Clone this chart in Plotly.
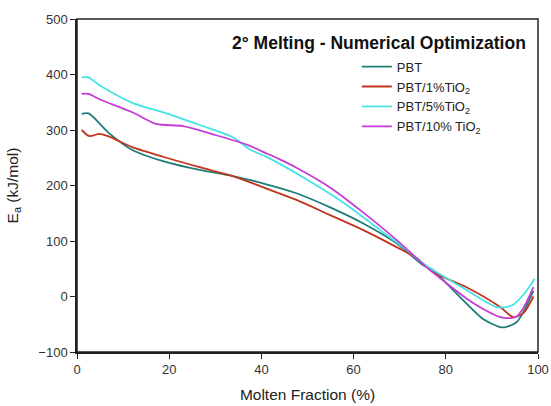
import plotly.graph_objects as go

# Data
pbt_x = [1, 2.5, 7, 12, 19.4, 26.6, 33.8, 40.3, 47.6, 54.8, 62, 69.3, 75, 77.2, 80, 84.4, 88, 91.8, 93, 95.4, 97, 99]
pbt_y = [329, 330, 294, 264, 242, 228, 217, 204, 186, 161, 132, 96, 57, 48, 25, -12, -40, -55, -55, -46, -25, 10]

tio1_x = [1, 2.7, 4.9, 7, 12, 19.4, 26.6, 33.8, 40.3, 47.6, 54.8, 62, 69.3, 73.7, 77.2, 84.4, 91.8, 94.6, 96.8, 99]
tio1_y = [300, 289, 293, 288, 269, 250, 233, 217, 197, 174, 147, 120, 89, 69, 44, 17, -19, -37, -30, 0]

tio5_x = [1, 2.5, 5, 12, 19.4, 26.6, 33.8, 37.5, 41, 44, 51.2, 58.5, 65.7, 71.5, 75, 77.2, 84.4, 91, 93, 94.6, 97, 99.3]
tio5_y = [395, 395, 380, 349, 330, 309, 287, 265, 252, 239, 204, 165, 120, 84, 60, 48, 12, -19, -19, -15, 5, 32]

tio10_x = [1, 2.5, 5, 12, 17.2, 23, 30, 37.4, 40, 44, 47.6, 54.8, 62, 69.3, 75.8, 80, 84.4, 88, 91.8, 93.5, 95.4, 97, 99]
tio10_y = [365, 365, 355, 332, 311, 307, 291, 272, 262, 247, 232, 197, 152, 102, 53, 25, -3, -22, -37, -39, -36, -18, 17]

names = ["PBT", "PBT/1%TiO<sub>2</sub>", "PBT/5%TiO<sub>2</sub>", "PBT/10% TiO<sub>2</sub>"]
colors = ["#1e7d78", "#c2341c", "#45e3e6", "#c63cd6"]
series = [(pbt_x, pbt_y), (tio1_x, tio1_y), (tio5_x, tio5_y), (tio10_x, tio10_y)]

x_ticks = [0, 20, 40, 60, 80, 100]
y_ticks = [-100, 0, 100, 200, 300, 400, 500]

fig = go.Figure()
for (xs, ys), n, c in zip(series, names, colors):
    fig.add_trace(go.Scatter(x=xs, y=ys, mode="lines", name=n,
                             line=dict(color=c, width=1.8, shape="spline", smoothing=0.8)))

axis_common = dict(showline=True, linecolor="#222", linewidth=1.5, mirror=False,
                   ticks="outside", ticklen=5, tickcolor="#222", showgrid=False,
                   zeroline=False, automargin=False,
                   tickfont=dict(family="Liberation Sans, Arial", size=13, color="#333"))

fig.update_layout(
    width=551, height=406,
    margin=dict(l=77, r=13, t=19, b=54),
    paper_bgcolor="white", plot_bgcolor="white",
    font=dict(family="Liberation Sans, Arial", color="#222"),
    xaxis=dict(range=[0, 100], tickvals=x_ticks,
               title=dict(text="Molten Fraction (%)", font=dict(size=15.5, color="#222"), standoff=13),
               **axis_common),
    yaxis=dict(range=[-100, 500], tickvals=y_ticks,
               title=dict(text="E<sub>a</sub> (kJ/mol)", font=dict(size=15.5, color="#222"), standoff=16),
               **axis_common),
    legend=dict(x=0.607, y=0.902, xanchor="left", yanchor="top",
                bgcolor="rgba(0,0,0,0)", font=dict(size=13, color="#222"),
                tracegroupgap=0, itemwidth=30),
    showlegend=True,
)

# frame on top and right
fig.add_shape(type="rect", xref="paper", yref="paper", x0=0, y0=0, x1=1, y1=1,
              line=dict(color="#222", width=1.5), layer="above")

fig.add_annotation(text="<b>2° Melting - Numerical Optimization</b>", xref="paper", yref="paper",
                   x=0.978, y=0.928, xanchor="right", yanchor="middle", showarrow=False,
                   font=dict(size=17.5, color="#111", family="Liberation Sans, Arial"))

fig.write_html("out.html")
